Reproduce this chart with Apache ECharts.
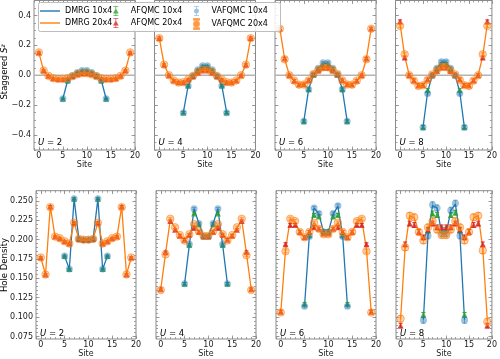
<!DOCTYPE html>
<html><head><meta charset="utf-8">
<script src="https://cdn.jsdelivr.net/npm/echarts@6/dist/echarts.min.js"></script>
<style>html,body{margin:0;padding:0;background:#fff}#c{width:500px;height:359px}</style>
</head><body><div id="c"></div>
<script>
// ---------------- data ----------------
const uValues = [2, 4, 6, 8];
const sites20 = [0,1,2,3,4,5,6,7,8,9,10,11,12,13,14,15,16,17,18,19];
const sites10 = [5,6,7,8,9,10,11,12,13,14];

const xTicks = [0, 5, 10, 15, 20];
const xTickLabels = ['0', '5', '10', '15', '20'];
const szTicks = [-0.4, -0.2, 0, 0.2, 0.4];
const szTickLabels = ['\u22120.4', '\u22120.2', '0.0', '0.2', '0.4'];
const hdTicks = [0.075, 0.1, 0.125, 0.15, 0.175, 0.2, 0.225, 0.25];
const hdTickLabels = ['0.075', '0.100', '0.125', '0.150', '0.175', '0.200', '0.225', '0.250'];

// Staggered S^z, rows = U=2,4,6,8
const szDmrg20 = [
  [0.153,0.031,-0.004,-0.020,-0.025,-0.025,-0.020,-0.006,0.006,0.013,0.013,0.006,-0.006,-0.020,-0.025,-0.025,-0.020,-0.004,0.031,0.153],
  [0.249,0.071,0.000,-0.035,-0.048,-0.046,-0.028,-0.005,0.020,0.036,0.036,0.020,-0.005,-0.028,-0.046,-0.048,-0.035,0.000,0.071,0.249],
  [0.313,0.109,0.000,-0.036,-0.062,-0.062,-0.035,0.008,0.035,0.052,0.052,0.035,0.008,-0.035,-0.062,-0.062,-0.036,0.000,0.109,0.313],
  [0.343,0.128,0.000,-0.035,-0.070,-0.066,-0.030,0.005,0.030,0.055,0.055,0.030,0.005,-0.030,-0.066,-0.070,-0.035,0.000,0.128,0.343]
];
const szAf20 = [
  [0.153,0.032,-0.004,-0.020,-0.025,-0.025,-0.020,-0.006,0.006,0.013,0.013,0.006,-0.006,-0.020,-0.025,-0.025,-0.020,-0.004,0.032,0.153],
  [0.250,0.070,0.000,-0.035,-0.047,-0.046,-0.028,-0.006,0.018,0.034,0.034,0.018,-0.006,-0.028,-0.046,-0.047,-0.035,0.000,0.070,0.250],
  [0.313,0.112,0.000,-0.036,-0.062,-0.061,-0.034,0.006,0.032,0.050,0.050,0.032,0.006,-0.034,-0.061,-0.062,-0.036,0.000,0.112,0.313],
  [0.360,0.118,0.000,-0.035,-0.068,-0.065,-0.029,0.004,0.028,0.052,0.052,0.028,0.004,-0.029,-0.065,-0.068,-0.035,0.000,0.118,0.360]
];
const szVa20 = [
  [0.153,0.031,-0.004,-0.020,-0.025,-0.025,-0.020,-0.006,0.006,0.013,0.013,0.006,-0.006,-0.020,-0.025,-0.025,-0.020,-0.004,0.031,0.153],
  [0.248,0.071,0.000,-0.035,-0.049,-0.046,-0.028,-0.005,0.020,0.037,0.037,0.020,-0.005,-0.028,-0.046,-0.049,-0.035,0.000,0.071,0.248],
  [0.311,0.107,0.000,-0.036,-0.063,-0.062,-0.035,0.008,0.035,0.053,0.053,0.035,0.008,-0.035,-0.062,-0.063,-0.036,0.000,0.107,0.311],
  [0.330,0.140,0.000,-0.036,-0.072,-0.067,-0.031,0.005,0.031,0.057,0.057,0.031,0.005,-0.031,-0.067,-0.072,-0.036,0.000,0.140,0.330]
];
const szDmrg10 = [
  [-0.157,-0.035,-0.003,0.018,0.031,0.031,0.018,-0.003,-0.035,-0.157],
  [-0.249,-0.069,-0.005,0.035,0.062,0.062,0.035,-0.005,-0.069,-0.249],
  [-0.307,-0.093,0.005,0.045,0.080,0.080,0.045,0.005,-0.093,-0.307],
  [-0.347,-0.112,0.000,0.045,0.087,0.087,0.045,0.000,-0.112,-0.347]
];
const szAf10 = [
  [-0.157,-0.035,-0.003,0.018,0.030,0.030,0.018,-0.003,-0.035,-0.157],
  [-0.249,-0.069,-0.005,0.034,0.058,0.058,0.034,-0.005,-0.069,-0.249],
  [-0.307,-0.093,0.004,0.042,0.072,0.072,0.042,0.004,-0.093,-0.307],
  [-0.347,-0.100,0.000,0.042,0.076,0.076,0.042,0.000,-0.100,-0.347]
];
const szVa10 = [
  [-0.157,-0.035,-0.003,0.018,0.031,0.031,0.018,-0.003,-0.035,-0.157],
  [-0.250,-0.070,-0.005,0.036,0.063,0.063,0.036,-0.005,-0.070,-0.250],
  [-0.308,-0.094,0.005,0.046,0.083,0.083,0.046,0.005,-0.094,-0.308],
  [-0.347,-0.122,-0.004,0.046,0.090,0.090,0.046,-0.004,-0.122,-0.347]
];

// Hole density, rows = U=2,4,6,8
const hdDmrg20 = [
  [0.177,0.155,0.243,0.204,0.202,0.198,0.195,0.222,0.201,0.200,0.200,0.201,0.222,0.195,0.198,0.202,0.204,0.243,0.155,0.177],
  [0.136,0.182,0.226,0.215,0.206,0.200,0.207,0.219,0.211,0.205,0.205,0.211,0.219,0.207,0.200,0.206,0.215,0.226,0.182,0.136],
  [0.106,0.187,0.227,0.223,0.210,0.203,0.210,0.222,0.214,0.207,0.207,0.214,0.222,0.210,0.203,0.210,0.223,0.227,0.187,0.106],
  [0.097,0.190,0.231,0.228,0.210,0.199,0.215,0.224,0.214,0.208,0.208,0.214,0.224,0.215,0.199,0.210,0.228,0.231,0.189,0.095]
];
const hdAf20 = [
  [0.177,0.155,0.243,0.204,0.202,0.198,0.195,0.222,0.201,0.200,0.200,0.201,0.222,0.195,0.198,0.202,0.204,0.243,0.155,0.177],
  [0.136,0.184,0.224,0.213,0.205,0.200,0.206,0.215,0.210,0.204,0.204,0.210,0.215,0.206,0.200,0.205,0.213,0.224,0.184,0.136],
  [0.107,0.194,0.219,0.219,0.210,0.203,0.210,0.216,0.214,0.208,0.208,0.214,0.216,0.210,0.203,0.210,0.219,0.219,0.194,0.107],
  [0.089,0.194,0.221,0.219,0.210,0.203,0.213,0.221,0.216,0.216,0.216,0.216,0.221,0.213,0.203,0.210,0.219,0.221,0.194,0.089]
];
const hdVa20 = [
  [0.177,0.155,0.242,0.204,0.202,0.198,0.195,0.222,0.201,0.200,0.200,0.201,0.222,0.195,0.198,0.202,0.204,0.242,0.155,0.177],
  [0.135,0.181,0.227,0.216,0.206,0.199,0.207,0.220,0.211,0.205,0.205,0.211,0.220,0.207,0.199,0.206,0.216,0.227,0.180,0.135],
  [0.106,0.185,0.227,0.224,0.210,0.203,0.210,0.222,0.214,0.207,0.207,0.214,0.222,0.210,0.203,0.210,0.224,0.227,0.185,0.106],
  [0.098,0.190,0.231,0.229,0.210,0.199,0.216,0.224,0.213,0.206,0.206,0.213,0.224,0.216,0.199,0.210,0.229,0.231,0.186,0.094]
];
const hdDmrg10 = [
  [0.179,0.162,0.253,0.201,0.200,0.200,0.201,0.253,0.162,0.179],
  [0.143,0.193,0.240,0.221,0.205,0.205,0.221,0.240,0.193,0.143],
  [0.115,0.205,0.241,0.233,0.210,0.210,0.233,0.243,0.205,0.115],
  [0.097,0.206,0.244,0.241,0.208,0.208,0.238,0.246,0.206,0.097]
];
const hdAf10 = [
  [0.179,0.162,0.253,0.201,0.200,0.200,0.201,0.253,0.162,0.179],
  [0.143,0.193,0.234,0.220,0.205,0.205,0.220,0.234,0.193,0.143],
  [0.117,0.206,0.232,0.230,0.211,0.211,0.230,0.232,0.206,0.117],
  [0.103,0.212,0.234,0.232,0.213,0.213,0.232,0.235,0.212,0.103]
];
const hdVa10 = [
  [0.179,0.162,0.253,0.201,0.200,0.200,0.201,0.253,0.162,0.179],
  [0.143,0.194,0.240,0.221,0.204,0.204,0.221,0.240,0.194,0.143],
  [0.114,0.204,0.241,0.234,0.210,0.210,0.234,0.244,0.204,0.114],
  [0.096,0.205,0.245,0.241,0.208,0.208,0.238,0.247,0.205,0.096]
];

// statistical error bars per panel (U=2,4,6,8)
const szErrAf = [0.004, 0.006, 0.008, 0.010];
const szErrVa = [0.004, 0.006, 0.008, 0.010];
const hdErrAf = [0.001, 0.0015, 0.002, 0.003];
const hdErrVa = [0.001, 0.0015, 0.002, 0.004];

// ---------------- styling ----------------
const FONT = 'DejaVu Sans';
const FRAME = '#8a8a8a';
const TXT = '#1a1a1a';
const C_BLUE = '#1f77b4', C_ORANGE = '#ff7f0e', C_GREEN = '#2ca02c', C_RED = '#d62728';
const topLefts = [34, 154.5, 275, 395.5];
const botLefts = [36, 156, 276, 396];

function tickRange(a, b, step) {
  const r = [];
  for (let k = Math.ceil(a / step - 1e-9); k * step <= b + 1e-9; k++) r.push(+(k * step).toFixed(6));
  return r;
}
function labelOf(ticks, labels, v) {
  for (let i = 0; i < ticks.length; i++) if (Math.abs(ticks[i] - v) < 1e-6) return labels[i];
  return '';
}
function pairs(xs, ys, e) {
  return xs.map((x, i) => e === undefined ? [x, ys[i]] : [x, ys[i], e]);
}
function tickAxis(g, position, min, max, ticks, len, label, extra) {
  return Object.assign({
    gridIndex: g, type: 'value', position: position, min: min, max: max,
    axisLine: { show: false, onZero: false },
    splitLine: { show: false },
    axisTick: { show: true, inside: true, length: len, customValues: ticks, lineStyle: { color: FRAME, width: 0.8 } },
    axisLabel: label ? Object.assign({ customValues: ticks }, label) : { show: false }
  }, extra || {});
}
function errRender(color) {
  return function (params, api) {
    const x = api.value(0), y = api.value(1), e = api.value(2);
    const a = api.coord([x, y + e]), b = api.coord([x, y - e]);
    const c = 2;
    const st = { stroke: color, lineWidth: 1 };
    return { type: 'group', children: [
      { type: 'line', shape: { x1: a[0], y1: a[1], x2: b[0], y2: b[1] }, style: st },
      { type: 'line', shape: { x1: a[0] - c, y1: a[1], x2: a[0] + c, y2: a[1] }, style: st },
      { type: 'line', shape: { x1: b[0] - c, y1: b[1], x2: b[0] + c, y2: b[1] }, style: st }
    ] };
  };
}

const grids = [], xAxes = [], yAxes = [], series = [], graphics = [];
const xMinor = tickRange(-1, 20, 1);

for (let row = 0; row < 2; row++) {
  for (let col = 0; col < 4; col++) {
    const g = row * 4 + col;
    const left = row ? botLefts[col] : topLefts[col];
    const top = row ? 190.7 : 0.5;
    const h = row ? 148.6 : 149.5;
    const w = row ? 100 : 101;
    grids.push({ left: left, top: top, width: w, height: h, show: true, borderColor: FRAME, borderWidth: 1, backgroundColor: 'transparent', containLabel: false });

    const yMin = row ? 0.0717 : -0.5, yMax = row ? 0.2633 : 0.5;
    const yMaj = row ? hdTicks : szTicks;
    const yLab = row ? hdTickLabels : szTickLabels;
    const yMinor = row ? tickRange(yMin, yMax, 0.005) : tickRange(-0.5, 0.5, 0.05);

    const xi = xAxes.length;
    xAxes.push(tickAxis(g, 'bottom', -1, 20, xTicks, 3.5,
      { show: true, fontSize: 8, fontFamily: FONT, color: TXT, margin: 2, formatter: v => labelOf(xTicks, xTickLabels, v) },
      { name: 'Site', nameLocation: 'middle', nameGap: 11, nameTextStyle: { fontSize: 8, fontFamily: FONT, color: TXT } }));
    xAxes.push(tickAxis(g, 'top', -1, 20, xTicks, 3.5, null));
    xAxes.push(tickAxis(g, 'bottom', -1, 20, xMinor, 2, null));
    xAxes.push(tickAxis(g, 'top', -1, 20, xMinor, 2, null));

    const yi = yAxes.length;
    yAxes.push(tickAxis(g, 'left', yMin, yMax, yMaj, 3.5,
      col === 0 ? { show: true, fontSize: 8, fontFamily: FONT, color: TXT, margin: 3, formatter: v => labelOf(yMaj, yLab, v) } : null));
    yAxes.push(tickAxis(g, 'right', yMin, yMax, yMaj, 3.5, null));
    yAxes.push(tickAxis(g, 'left', yMin, yMax, yMinor, 2, null));
    yAxes.push(tickAxis(g, 'right', yMin, yMax, yMinor, 2, null));

    const d10 = row ? hdDmrg10[col] : szDmrg10[col];
    const d20 = row ? hdDmrg20[col] : szDmrg20[col];
    const a10 = row ? hdAf10[col] : szAf10[col];
    const a20 = row ? hdAf20[col] : szAf20[col];
    const v10 = row ? hdVa10[col] : szVa10[col];
    const v20 = row ? hdVa20[col] : szVa20[col];
    const eA = row ? hdErrAf[col] : szErrAf[col];
    const eV = row ? hdErrVa[col] : szErrVa[col];
    const base = { xAxisIndex: xi, yAxisIndex: yi, silent: true, animation: false };

    if (row === 0) {
      series.push(Object.assign({ type: 'line', name: 'zero', data: [[-1, 0], [20, 0]], symbol: 'none',
        lineStyle: { color: '#b4b4b4', width: 1.6 }, z: 1 }, base));
    }
    series.push(Object.assign({ type: 'line', name: 'DMRG 10x4', data: pairs(sites10, d10), symbol: 'none',
      lineStyle: { color: C_BLUE, width: 1.3 }, itemStyle: { color: C_BLUE }, z: 2 }, base));
    series.push(Object.assign({ type: 'line', name: 'DMRG 20x4', data: pairs(sites20, d20), symbol: 'none',
      lineStyle: { color: C_ORANGE, width: 1.3 }, itemStyle: { color: C_ORANGE }, z: 2 }, base));

    const scat = [
      ['AFQMC 10x4', sites10, a10, eA, C_GREEN, C_GREEN, 'triangle', 6, null],
      ['AFQMC 20x4', sites20, a20, eA, C_RED, C_RED, 'triangle', 6, null],
      ['VAFQMC 10x4', sites10, v10, eV, 'rgba(31,119,180,0.55)', 'rgba(31,119,180,0.5)', 'circle', 7, null],
      ['VAFQMC 20x4', sites20, v20, eV, 'rgba(255,127,14,0.45)', 'rgba(255,127,14,0.7)', 'circle', 7.5, 'rgba(255,127,14,0.85)']
    ];
    scat.forEach((s, k) => {
      series.push(Object.assign({ type: 'custom', name: 'err' + k, data: pairs(s[1], s[2], s[3]),
        encode: { x: 0, y: 1 }, renderItem: errRender(s[5]), z: 3 + k }, base));
      series.push(Object.assign({ type: 'scatter', name: s[0], data: pairs(s[1], s[2]), symbol: s[6], symbolSize: s[7],
        itemStyle: s[8] ? { color: s[4], borderColor: s[8], borderWidth: 0.8 } : { color: s[4] }, z: 3 + k }, base));
    });

    graphics.push({ type: 'text', x: left + 4, y: row ? 333.3 : 142.5, z: 20,
      style: { text: '{i|U} = ' + uValues[col], rich: { i: { fontStyle: 'italic', fontSize: 8.5, fontFamily: FONT, fill: '#000' } },
        fontSize: 8.5, fontFamily: FONT, fill: '#000', verticalAlign: 'middle' } });
  }
}

graphics.push({ type: 'text', x: 5, y: 72, rotation: Math.PI / 2, z: 20,
  style: { text: 'Staggered {i|S}{s|z}', rich: { i: { fontStyle: 'italic', fontSize: 8.5, fontFamily: FONT }, s: { fontStyle: 'italic', fontSize: 6, fontFamily: FONT, verticalAlign: 'top', padding: [0, 0, 4, 0] } },
    fontSize: 8.5, fontFamily: FONT, fill: '#000', align: 'center', verticalAlign: 'middle' } });
graphics.push({ type: 'text', x: 5, y: 265, rotation: Math.PI / 2, z: 20,
  style: { text: 'Hole Density', fontSize: 8.5, fontFamily: FONT, fill: '#000', align: 'center', verticalAlign: 'middle' } });
graphics.push({ type: 'rect', z: 30, shape: { x: 38.5, y: 2.5, width: 242, height: 29, r: 2 },
  style: { fill: 'rgba(255,255,255,0.85)', stroke: '#bdbdbd', lineWidth: 1 } });

const iconLine = 'path://M0,4.3H20V5.7H0Z';
const iconAf = 'path://M4.5,0H5.5V12H4.5Z M2,0H8V1H2Z M2,11H8V12H2Z M5,2.6L8.4,9L1.6,9Z';
const iconVa = 'path://M4.5,0H5.5V12H4.5Z M2,0H8V1H2Z M2,11H8V12H2Z M5,3A3,3,0,1,1,4.99,3Z';
const legText = { fontSize: 8, fontFamily: FONT, color: '#000', lineHeight: 10 };
const legBase = { orient: 'vertical', top: 6, itemWidth: 20, itemHeight: 10, itemGap: 2, textStyle: legText, z: 40, selectedMode: false, padding: 0 };

const option = {
  animation: false,
  backgroundColor: '#ffffff',
  grid: grids, xAxis: xAxes, yAxis: yAxes, series: series,
  legend: [
    Object.assign({ left: 40, data: [{ name: 'DMRG 10x4', icon: iconLine }, { name: 'DMRG 20x4', icon: iconLine }] }, legBase),
    Object.assign({ left: 113, data: [{ name: 'AFQMC 10x4', icon: iconAf }, { name: 'AFQMC 20x4', icon: iconAf }] }, legBase),
    Object.assign({ left: 193, data: [{ name: 'VAFQMC 10x4', icon: iconVa }, { name: 'VAFQMC 20x4', icon: iconVa }] }, legBase)
  ],
  graphic: { elements: graphics }
};
const chart = echarts.init(document.getElementById('c'), null, { renderer: 'canvas' });
chart.setOption(option);
</script></body></html>
